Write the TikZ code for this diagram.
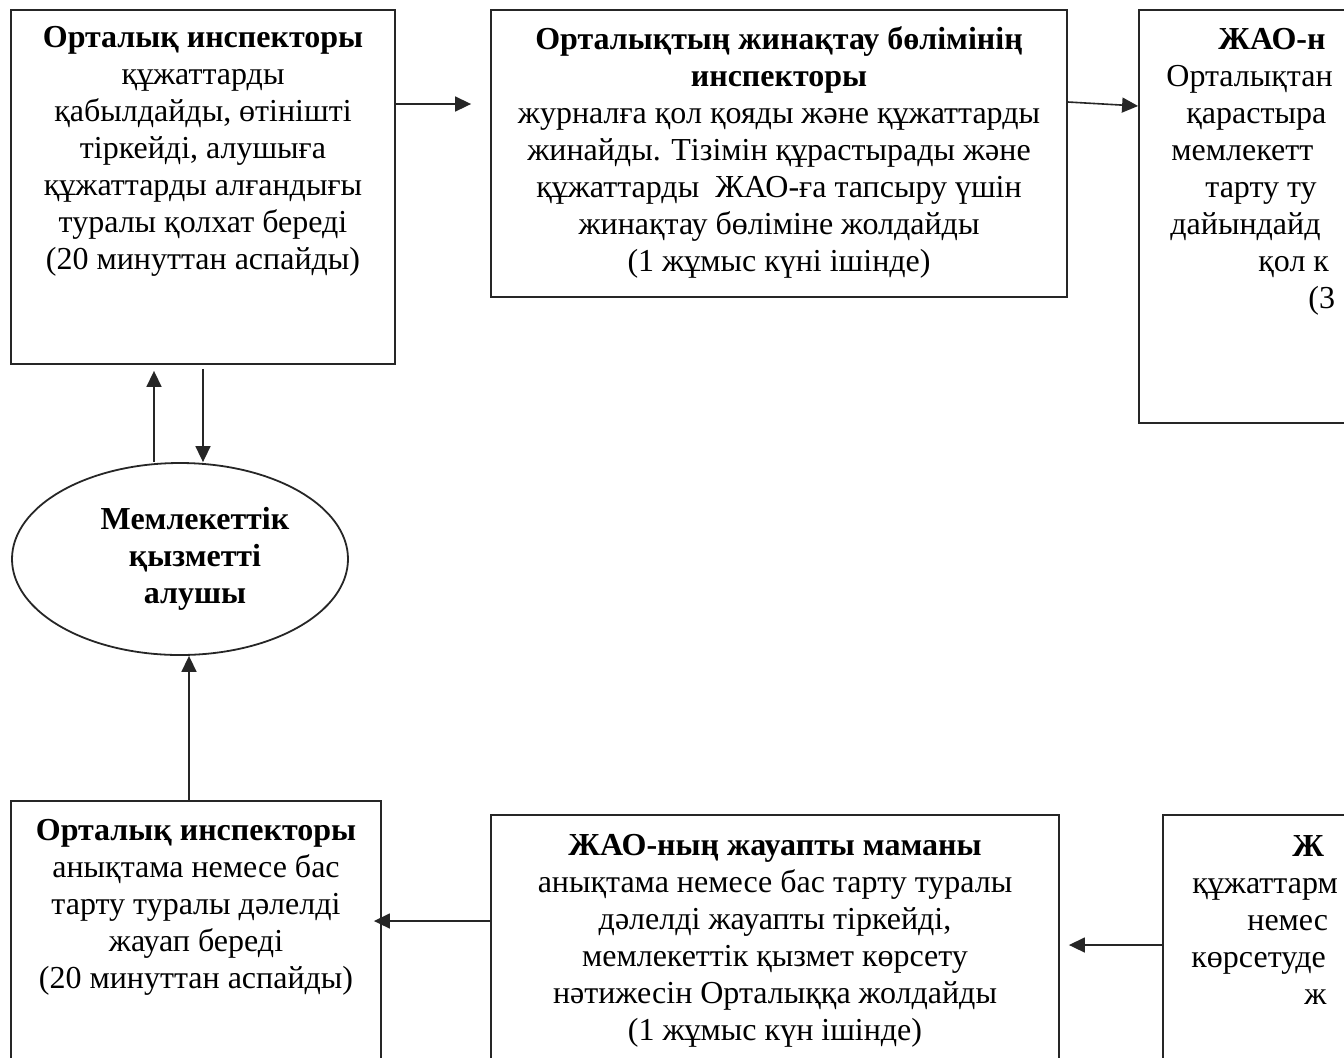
\documentclass[tikz,border=0pt]{standalone}
\usepackage{fontspec}
\setmainfont{Liberation Serif}
\usetikzlibrary{arrows.meta,shapes.geometric,fit}

\begin{document}
\begin{tikzpicture}[
    x=0.5pt, y=-0.5pt,
    box/.style={draw=black!85, line width=0.9pt, inner sep=0pt},
    oval/.style={draw=black!85, line width=0.9pt, ellipse, inner sep=0pt,
                 minimum width=168pt, minimum height=96pt},
    txt/.style={inner sep=0pt, align=center, anchor=north,
                font=\fontsize{16}{18.5}\selectfont},
    cut/.style={inner sep=0pt, anchor=base west,
                font=\fontsize{16}{18.5}\selectfont},
    arr/.style={-{Triangle[length=8pt, width=7.5pt]}, line width=0.8pt,
                black!85},
]

\useasboundingbox (0,0) rectangle (1344,1057);
\clip (0,0) rectangle (1344,1057);

% --- Boxes ---
\node[box, fit={(11,10) (395,364)}]    (recv)   {};
\node[box, fit={(491,10) (1067,297)}]  (pack)   {};
\node[box, fit={(1139,10) (1715,423)}] (lea)    {};
\node[box, fit={(11,801) (381,1100)}]  (reply)  {};
\node[box, fit={(491,815) (1059,1100)}] (leareg) {};
\node[box, fit={(1163,815) (1739,1100)}] (leadec) {};

\node[oval] (client) at (180,559) {};
\node[txt, anchor=center, font=\fontsize{16}{18.5}\selectfont\bfseries]
    (clienttxt) at (195,559) {Мемлекеттік\\ қызметті\\ алушы};

% --- Box texts ---
\node[txt] (recvtxt) at (203,26) {\textbf{Орталық инспекторы}\\
    құжаттарды\\ қабылдайды, өтінішті\\ тіркейді, алушыға\\
    құжаттарды алғандығы\\ туралы қолхат береді\\
    (20 минуттан аспайды)};
\node[txt] (packtxt) at (779,26) {\textbf{Орталықтың жинақтау бөлімінің}\\
    \textbf{инспекторы}\\ журналға қол қояды және құжаттарды\\
    жинайды. Тізімін құрастырады және\\
    құжаттарды\ \ ЖАО-ға тапсыру үшін\\ жинақтау бөліміне жолдайды\\
    (1 жұмыс күні ішінде)};
\node[txt] (replytxt) at (196,819) {\textbf{Орталық инспекторы}\\
    анықтама немесе бас\\ тарту туралы дәлелді\\ жауап береді\\
    (20 минуттан аспайды)};
\node[txt] (learegtxt) at (775,834) {\textbf{ЖАО-ның жауапты маманы}\\
    анықтама немесе бас тарту туралы\\ дәлелді жауапты тіркейді,\\
    мемлекеттік қызмет көрсету\\ нәтижесін Орталыққа жолдайды\\
    (1 жұмыс күн ішінде)};

% cut-off text at the right edge
\node[cut] (lea1) at (1218,49)  {\textbf{ЖАО-н}};
\node[cut] (lea2) at (1166,86)  {Орталықтан};
\node[cut] (lea3) at (1186,123) {қарастыра};
\node[cut] (lea4) at (1171,160) {мемлекетт};
\node[cut] (lea5) at (1205,197) {тарту ту};
\node[cut] (lea6) at (1170,234) {дайындайд};
\node[cut] (lea7) at (1258,271) {қол к};
\node[cut] (lea8) at (1308,308) {(3};

\node[cut] (dec1) at (1292,856)  {\textbf{Ж}};
\node[cut] (dec2) at (1192,893)  {құжаттарм};
\node[cut] (dec3) at (1247,930)  {немес};
\node[cut] (dec4) at (1191,967)  {көрсетуде};
\node[cut] (dec5) at (1304,1004) {ж};

% --- Connectors ---
\draw[arr] (recv.east |- 0,104) -- ([xshift=-9.5pt]pack.west |- 0,104);
\draw[arr] (pack.east |- 0,102) -- (lea.west |- 0,106);
\draw[arr] (client.north -| 154,0) -- ([yshift=-3pt]recv.south -| 154,0);
\draw[arr] ([yshift=-2pt]recv.south) -- (client.north -| recv.south);
\draw[arr] (reply.north -| 189,0) -- (client.south -| 189,0);
\draw[arr] (leareg.west |- 0,921) -- ([xshift=-4pt]reply.east |- 0,921);
\draw[arr] (leadec.west |- 0,945) -- ([xshift=4.5pt]leareg.east |- 0,945);

\end{tikzpicture}
\end{document}
